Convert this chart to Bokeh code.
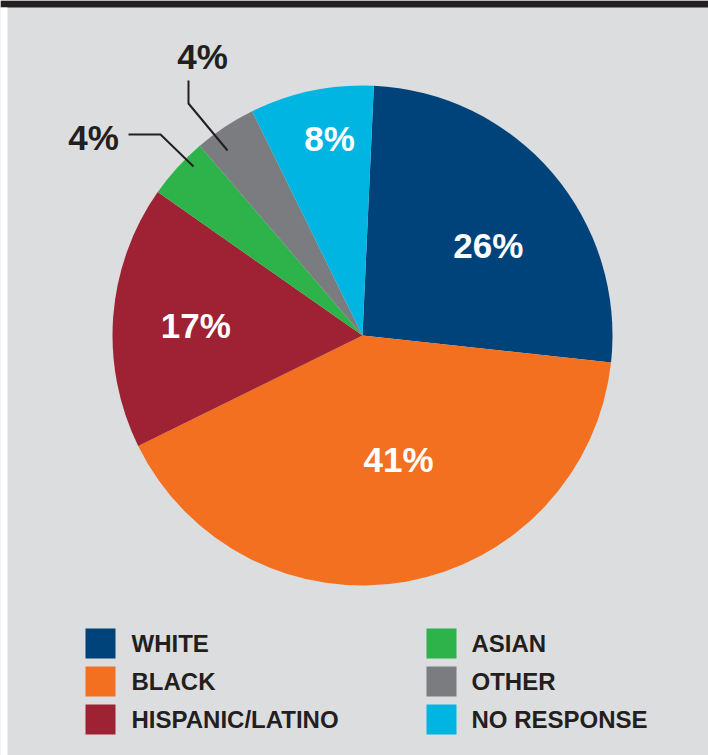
import numpy as np
from bokeh.plotting import figure
from bokeh.models import Range1d
from bokeh.core.properties import value
from bokeh.embed import file_html
from bokeh.resources import INLINE

# ---- data ----
categories = ["WHITE", "BLACK", "HISPANIC/LATINO", "ASIAN", "OTHER", "NO RESPONSE"]
shares = [26, 41, 17, 4, 4, 8]
pct_labels = ["26%", "41%", "17%", "4%", "4%", "8%"]
colors = ["#00437a", "#f37021", "#9e2233", "#2db34a", "#7a7c80", "#00b5e2"]

# ---- layout ----
W, H = 708, 755
BG = "#dcdddf"
INK = "#231f20"
FONT = "Liberation Sans"


def X(px):
    return px


def Y(py):
    return H - py


cx, cy, R = 362, 335, 250          # pie centre/radius (page px)
start_offset = 2.6                 # degrees clockwise from 12 o'clock
# label placement per slice: (distance from centre, angle nudge in deg)
label_dist = [155, 129, 167, 334, 322, 200]
label_nudge = [4.9, -6.2, -1.0, -5.8, 3.6, 2.3]
label_color = ["white", "white", "white", INK, INK, "white"]

p = figure(width=W, height=H, output_backend="svg", toolbar_location=None,
           x_range=Range1d(0, W), y_range=Range1d(0, H), min_border=0)
p.axis.visible = False
p.grid.visible = False
p.outline_line_color = None
p.background_fill_color = BG
p.border_fill_color = BG

# page frame decoration: dark top bar and white left strip
p.quad(left=[0], right=[W], bottom=[Y(7)], top=[H], fill_color=INK, line_color=None)
p.quad(left=[0], right=[7], bottom=[0], top=[Y(7)], fill_color="white", line_color=None)

sh = np.array(shares, dtype=float)
c0 = start_offset + 360.0 * np.concatenate([[0], np.cumsum(sh)[:-1]]) / sh.sum()
c1 = c0 + 360.0 * sh / sh.sum()
start = np.radians(90 - c1)
end = np.radians(90 - c0)

p.wedge(x=[X(cx)] * len(shares), y=[Y(cy)] * len(shares), radius=R,
        start_angle=start, end_angle=end, fill_color=colors,
        line_color=None)

# percentage labels
mid = (c0 + c1) / 2 + np.array(label_nudge)
lx = [X(cx) + d * np.sin(np.radians(a)) for d, a in zip(label_dist, mid)]
ly = [Y(cy) + d * np.cos(np.radians(a)) for d, a in zip(label_dist, mid)]
p.text(x=lx, y=ly, text=pct_labels, text_color=label_color,
       text_font=value(FONT), text_font_style="bold", text_font_size="35px",
       text_align="center", text_baseline="middle")

# leader lines for the small slices (page px)
leaders = [
    [(193, 166), (160, 134), (128, 134)],
    [(227, 150), (188, 103), (188, 80)],
]
for path in leaders:
    p.line([X(a) for a, b in path], [Y(b) for a, b in path],
           line_color=INK, line_width=2)

# legend
col_sq_x = [100, 441]
col_txt_x = [131, 471]
row_y = [643, 681, 719]
for i, (cat, col) in enumerate(zip(categories, colors)):
    c, r = divmod(i, 3)
    p.rect(x=[X(col_sq_x[c])], y=[Y(row_y[r])], width=30, height=30,
           fill_color=col, line_color=None)
    p.text(x=[X(col_txt_x[c])], y=[Y(row_y[r])], text=[cat], text_color=INK,
           text_font=value(FONT), text_font_style="bold",
           text_font_size="24px", text_align="left", text_baseline="middle")

open("out.html", "w").write(file_html(p, INLINE))
